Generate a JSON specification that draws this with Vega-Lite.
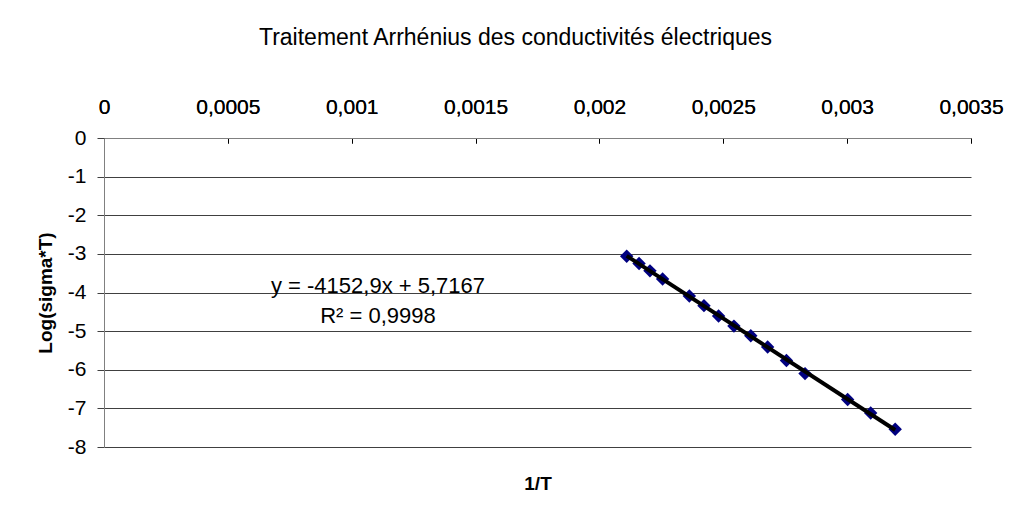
{
  "$schema": "https://vega.github.io/schema/vega-lite/v6.json",
  "width": 867,
  "height": 309,
  "autosize": {"type": "none"},
  "padding": {"left": 104, "top": 138, "right": 46, "bottom": 70},
  "background": "white",
  "title": {
    "text": "Traitement Arrhénius des conductivités électriques",
    "font": "Liberation Sans",
    "fontSize": 23,
    "fontWeight": "normal",
    "color": "#000000",
    "anchor": "middle",
    "dx": -22,
    "offset": 46
  },
  "config": {
    "font": "Liberation Sans",
    "view": {"stroke": null},
    "axis": {
      "labelFont": "Liberation Sans",
      "labelColor": "#000000",
      "titleFont": "Liberation Sans",
      "titleColor": "#000000"
    }
  },
  "data": {
    "values": [
      {"invT": 0.002110, "logsT": -3.06},
      {"invT": 0.002160, "logsT": -3.25},
      {"invT": 0.002204, "logsT": -3.44},
      {"invT": 0.002255, "logsT": -3.65},
      {"invT": 0.002363, "logsT": -4.09},
      {"invT": 0.002422, "logsT": -4.34},
      {"invT": 0.002481, "logsT": -4.61},
      {"invT": 0.002543, "logsT": -4.87},
      {"invT": 0.002611, "logsT": -5.12},
      {"invT": 0.002679, "logsT": -5.41},
      {"invT": 0.002755, "logsT": -5.76},
      {"invT": 0.002830, "logsT": -6.10},
      {"invT": 0.003002, "logsT": -6.77},
      {"invT": 0.003095, "logsT": -7.12},
      {"invT": 0.003194, "logsT": -7.54}
    ]
  },
  "layer": [
    {
      "mark": {"type": "point", "shape": "diamond", "filled": true, "color": "#000080", "opacity": 1, "size": 180},
      "encoding": {
        "x": {
          "field": "invT",
          "type": "quantitative",
          "scale": {"domain": [0, 0.0035], "nice": false, "zero": false},
          "axis": {
            "orient": "top",
            "title": null,
            "values": [0, 0.0005, 0.001, 0.0015, 0.002, 0.0025, 0.003, 0.0035],
            "labelExpr": "replace(format(datum.value, '.4~f'), '.', ',')",
            "labelFontSize": 21,
            "labelPadding": 26,
            "tickSize": -5,
            "tickColor": "#000000",
            "domainColor": "#808080",
            "grid": false,
            "labelFlush": false
          }
        },
        "y": {
          "field": "logsT",
          "type": "quantitative",
          "scale": {"domain": [-8, 0], "nice": false, "zero": false},
          "axis": {
            "title": "Log(sigma*T)",
            "titleFontSize": 19,
            "titleFontWeight": "bold",
            "titlePadding": 12,
            "values": [-8, -7, -6, -5, -4, -3, -2, -1, 0],
            "labelExpr": "toString(datum.value)",
            "labelFontSize": 21,
            "labelPadding": 11,
            "tickSize": 7,
            "tickColor": "#404040",
            "domainColor": "#808080",
            "grid": true,
            "gridColor": "#404040",
            "gridOpacity": 1
          }
        }
      }
    },
    {
      "transform": [{"regression": "logsT", "on": "invT"}],
      "mark": {"type": "line", "color": "#000000", "strokeWidth": 4},
      "encoding": {
        "x": {
          "field": "invT",
          "type": "quantitative",
          "axis": {
            "orient": "bottom",
            "title": "1/T",
            "titleFontSize": 19,
            "titleFontWeight": "bold",
            "titlePadding": 27,
            "labels": false,
            "ticks": false,
            "domain": false,
            "grid": false
          }
        },
        "y": {
          "field": "logsT",
          "type": "quantitative",
          "axis": {
            "title": "Log(sigma*T)",
            "titleFontSize": 19,
            "titleFontWeight": "bold",
            "titlePadding": 12,
            "values": [-8, -7, -6, -5, -4, -3, -2, -1, 0],
            "labelExpr": "toString(datum.value)",
            "labelFontSize": 21,
            "labelPadding": 11,
            "tickSize": 7,
            "tickColor": "#404040",
            "domainColor": "#808080",
            "grid": true,
            "gridColor": "#404040",
            "gridOpacity": 1
          }
        }
      }
    },
    {
      "data": {"values": [{}]},
      "mark": {
        "type": "text",
        "text": ["y = -4152,9x + 5,7167", "R² = 0,9998"],
        "fontSize": 22,
        "align": "center",
        "baseline": "alphabetic",
        "lineHeight": 30,
        "color": "#000000"
      },
      "encoding": {
        "x": {
          "datum": 0.001106,
          "type": "quantitative",
          "axis": {
            "orient": "top",
            "title": null,
            "values": [0, 0.0005, 0.001, 0.0015, 0.002, 0.0025, 0.003, 0.0035],
            "labelExpr": "replace(format(datum.value, '.4~f'), '.', ',')",
            "labelFontSize": 21,
            "labelPadding": 26,
            "tickSize": -5,
            "tickColor": "#000000",
            "domainColor": "#808080",
            "grid": false,
            "labelFlush": false
          }
        },
        "y": {
          "datum": -4.013,
          "type": "quantitative",
          "axis": {
            "title": "Log(sigma*T)",
            "titleFontSize": 19,
            "titleFontWeight": "bold",
            "titlePadding": 12,
            "values": [-8, -7, -6, -5, -4, -3, -2, -1, 0],
            "labelExpr": "toString(datum.value)",
            "labelFontSize": 21,
            "labelPadding": 11,
            "tickSize": 7,
            "tickColor": "#404040",
            "domainColor": "#808080",
            "grid": true,
            "gridColor": "#404040",
            "gridOpacity": 1
          }
        }
      }
    }
  ]
}
